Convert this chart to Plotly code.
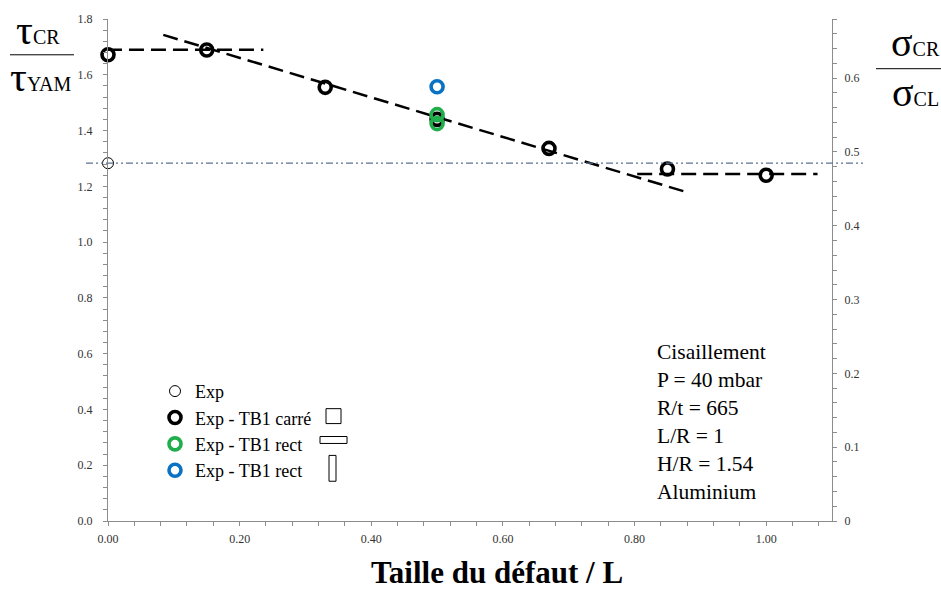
import plotly.graph_objects as go

# ---------------- data ----------------
x_exp = [0.0]
y_exp = [1.283]

x_carre = [0.0, 0.15, 0.33, 0.50, 0.67, 0.85, 1.00]
y_carre = [1.672, 1.689, 1.555, 1.440, 1.336, 1.262, 1.240]

x_rect_h = [0.50, 0.50]
y_rect_h = [1.457, 1.425]

x_rect_v = [0.50]
y_rect_v = [1.557]

# trend lines (dashed)
x_plateau_left = [-0.035, 0.236]
y_plateau_left = [1.690, 1.690]
x_slope = [0.084, 0.878]
y_slope = [1.743, 1.180]
x_plateau_right = [0.804, 1.078]
y_plateau_right = [1.244, 1.244]

# reference level (dash-dot-dot)
y_ref = 1.283

x_ticks = [0.0, 0.2, 0.4, 0.6, 0.8, 1.0]
x_ticklabels = ["0.00", "0.20", "0.40", "0.60", "0.80", "1.00"]
y_ticks = [0.0, 0.2, 0.4, 0.6, 0.8, 1.0, 1.2, 1.4, 1.6, 1.8]
y2_ticks = [0, 0.1, 0.2, 0.3, 0.4, 0.5, 0.6]

legend_names = ["Exp", "Exp - TB1 carré", "Exp - TB1 rect", "Exp - TB1 rect"]
info_lines = ["Cisaillement", "P = 40 mbar", "R/t = 665", "L/R = 1", "H/R = 1.54", "Aluminium"]

X_RANGE = [0, 1.1]
Y_RANGE = [0, 1.8]
Y2_RANGE = [0, 0.68]

# ---------------- layout helpers ----------------
W, H = 941, 590
L, R, T, B = 108, 832, 16, 521


def pxx(p):
    return (p - L) / (R - L)


def pxy(p):
    return (B - p) / (B - T)


SERIF = "Liberation Serif"
BLACK = "#000000"
GREEN = "#1fae4b"
BLUE = "#0a72c4"
REFC = "#5d7095"
AXC = "#8c8c8c"

fig = go.Figure()

dash_black = dict(color=BLACK, width=2.5, dash="15px,7px")
fig.add_trace(go.Scatter(x=x_plateau_left, y=y_plateau_left, mode="lines", line=dash_black,
                         showlegend=False, hoverinfo="skip"))
fig.add_trace(go.Scatter(x=x_slope, y=y_slope, mode="lines", line=dash_black,
                         showlegend=False, hoverinfo="skip"))
fig.add_trace(go.Scatter(x=x_plateau_right, y=y_plateau_right, mode="lines", line=dash_black,
                         showlegend=False, hoverinfo="skip"))

fig.add_trace(go.Scatter(x=x_exp, y=y_exp, mode="markers", name=legend_names[0],
                         marker=dict(symbol="circle-open", size=11, color=BLACK, line=dict(width=1)),
                         cliponaxis=False))
fig.add_trace(go.Scatter(x=x_carre, y=y_carre, mode="markers", name=legend_names[1],
                         marker=dict(symbol="circle-open", size=12, color=BLACK, line=dict(width=3.6)),
                         cliponaxis=False))
fig.add_trace(go.Scatter(x=x_rect_h, y=y_rect_h, mode="markers", name=legend_names[2],
                         marker=dict(symbol="circle-open", size=12, color=GREEN, line=dict(width=3.6))))
fig.add_trace(go.Scatter(x=x_rect_v, y=y_rect_v, mode="markers", name=legend_names[3],
                         marker=dict(symbol="circle-open", size=12, color=BLUE, line=dict(width=3.6))))

# invisible trace to activate the right axis
fig.add_trace(go.Scatter(x=[None], y=[None], yaxis="y2", showlegend=False, hoverinfo="skip"))

shapes = []
# reference dash-dot-dot line (extends slightly beyond the axes)
shapes.append(dict(type="line", xref="paper", yref="y", x0=pxx(86), x1=pxx(864), y0=y_ref, y1=y_ref,
                   line=dict(color=REFC, width=1.3, dash="7px,3px,2px,3px,2px,3px")))
# fraction bars
shapes.append(dict(type="line", xref="paper", yref="paper", x0=pxx(10), x1=pxx(74), y0=pxy(52), y1=pxy(52),
                   line=dict(color=BLACK, width=1)))
shapes.append(dict(type="line", xref="paper", yref="paper", x0=pxx(876), x1=pxx(941), y0=pxy(66), y1=pxy(66),
                   line=dict(color=BLACK, width=1)))
# defect shape pictograms in legend
shapes.append(dict(type="rect", xref="paper", yref="paper", x0=pxx(326), x1=pxx(341), y0=pxy(423), y1=pxy(408),
                   line=dict(color=BLACK, width=1)))
shapes.append(dict(type="rect", xref="paper", yref="paper", x0=pxx(320), x1=pxx(347), y0=pxy(443), y1=pxy(436),
                   line=dict(color=BLACK, width=1)))
shapes.append(dict(type="rect", xref="paper", yref="paper", x0=pxx(329), x1=pxx(336), y0=pxy(481), y1=pxy(455),
                   line=dict(color=BLACK, width=1)))

annotations = []
big = "<span style='font-size:42px'>τ</span>"
annotations.append(dict(xref="paper", yref="paper", x=pxx(38), y=pxy(27), xanchor="center", yanchor="middle",
                        text=big + "<span style='font-size:20px'>CR</span>", showarrow=False,
                        font=dict(family=SERIF, color=BLACK, size=20)))
annotations.append(dict(xref="paper", yref="paper", x=pxx(41), y=pxy(74), xanchor="center", yanchor="middle",
                        text=big + "<span style='font-size:20px'>YAM</span>", showarrow=False,
                        font=dict(family=SERIF, color=BLACK, size=20)))
bigs = "<span style='font-size:40px'>σ</span>"
annotations.append(dict(xref="paper", yref="paper", x=pxx(915), y=pxy(40), xanchor="center", yanchor="middle",
                        text=bigs + "<span style='font-size:20px'>CR</span>", showarrow=False,
                        font=dict(family=SERIF, color=BLACK, size=20)))
annotations.append(dict(xref="paper", yref="paper", x=pxx(915), y=pxy(90), xanchor="center", yanchor="middle",
                        text=bigs + "<span style='font-size:20px'>CL</span>", showarrow=False,
                        font=dict(family=SERIF, color=BLACK, size=20)))
annotations.append(dict(xref="paper", yref="paper", x=pxx(655), y=pxy(421), xanchor="left", yanchor="middle",
                        align="left", text="<br>".join(info_lines), showarrow=False,
                        font=dict(family=SERIF, color=BLACK, size=21.5)))
annotations.append(dict(xref="paper", yref="paper", x=pxx(497), y=pxy(573), xanchor="center", yanchor="middle",
                        text="<b>Taille du défaut / L</b>", showarrow=False,
                        font=dict(family=SERIF, color=BLACK, size=31)))

tickfont = dict(family=SERIF, size=12, color="#333333")

fig.update_layout(
    width=W, height=H,
    margin=dict(l=L, r=W - R, t=T, b=H - B, pad=0),
    paper_bgcolor="white", plot_bgcolor="white",
    showlegend=True,
    legend=dict(x=pxx(155), y=pxy(372), xanchor="left", yanchor="top",
                font=dict(family=SERIF, size=18, color=BLACK), tracegroupgap=0,
                bgcolor="rgba(0,0,0,0)", itemwidth=30),
    xaxis=dict(range=X_RANGE, tickvals=x_ticks, ticktext=x_ticklabels, showgrid=False, zeroline=False,
               showline=True, linecolor=AXC, linewidth=1, ticks="outside", ticklen=4, tickcolor=AXC,
               minor=dict(dtick=0.04, ticks="outside", ticklen=4, tickcolor=AXC),
               tickfont=tickfont, ticklabelstandoff=3),
    yaxis=dict(range=Y_RANGE, tickvals=y_ticks, tickformat=".1f", showgrid=False, zeroline=False,
               showline=True, linecolor=AXC, linewidth=1, ticks="outside", ticklen=4, tickcolor=AXC,
               minor=dict(dtick=0.04, ticks="outside", ticklen=4, tickcolor=AXC),
               tickfont=tickfont, ticklabelstandoff=8),
    yaxis2=dict(range=Y2_RANGE, tickvals=y2_ticks, overlaying="y", side="right", anchor="x",
                showgrid=False, zeroline=False, showline=True, linecolor=AXC, linewidth=1,
                ticks="outside", ticklen=4, tickcolor=AXC,
                minor=dict(dtick=0.02, ticks="outside", ticklen=4, tickcolor=AXC),
                tickfont=tickfont, ticklabelstandoff=5),
    shapes=shapes,
    annotations=annotations,
)

fig.write_html("out.html", config={"displayModeBar": False},
               post_script="document.body.style.margin='0';")
